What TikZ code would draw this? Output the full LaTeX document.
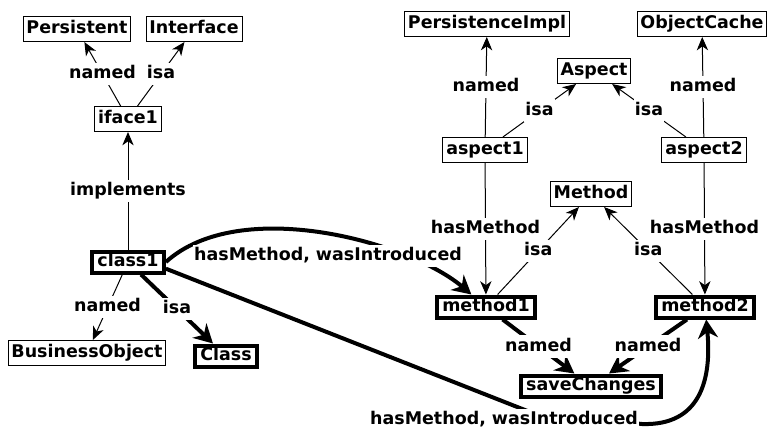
\documentclass[tikz,border=0pt]{standalone}
\usepackage{fontspec}
\setmainfont{DejaVu Sans}
\usetikzlibrary{arrows.meta}
\begin{document}
\begin{tikzpicture}[x=0.75pt,y=-0.75pt,
  every node/.style={font=\fontsize{13.1pt}{15pt}\selectfont\bfseries, text height=9.75pt, text depth=3pt},
  thinbox/.style={draw, line width=0.75pt, fill=white, inner xsep=2.5pt, inner ysep=3pt},
  thickbox/.style={draw, line width=3pt, fill=white, inner xsep=4pt, inner ysep=1.5pt},
  lbl/.style={fill=white, inner xsep=1pt, inner ysep=2pt},
  thinedge/.style={line width=0.75pt, -{Stealth[length=10pt,width=8.5pt,inset=3pt]}},
  thickedge/.style={line width=3pt, -{Stealth[length=14pt,width=15pt,inset=4.5pt]}},
]
\useasboundingbox (0,0) rectangle (771,432);
\fill[white] (0,0) rectangle (771,432);

% nodes
\node[thinbox] (persistent) at (77,29) {Persistent};
\node[thinbox] (interface) at (194,29) {Interface};
\node[thinbox] (iface1) at (128,119) {iface1};
\node[thickbox] (class1) at (128,262) {class1};
\node[thinbox] (bo) at (87,353) {BusinessObject};
\node[thickbox] (class) at (226,356) {Class};
\node[thinbox] (pimpl) at (487,24) {PersistenceImpl};
\node[thinbox] (ocache) at (702,24) {ObjectCache};
\node[thinbox] (aspect) at (594,71) {Aspect};
\node[thinbox] (aspect1) at (485,150) {aspect1};
\node[thinbox] (aspect2) at (704,150) {aspect2};
\node[thinbox] (method) at (591,194) {Method};
\node[thickbox] (method1) at (486,307) {method1};
\node[thickbox] (method2) at (705,307) {method2};
\node[thickbox] (save) at (591,386) {saveChanges};

% straight edges
\draw[thinedge] (iface1) -- node[lbl]{named} (persistent);
\draw[thinedge] (iface1) -- node[lbl]{isa} (interface);
\draw[thinedge] (class1) -- node[lbl]{implements} (iface1);
\draw[thinedge] (class1) -- node[lbl]{named} (bo);
\draw[thickedge] (class1) -- node[lbl]{isa} (class);
\draw[thinedge] (aspect1) -- node[lbl]{named} (pimpl);
\draw[thinedge] (aspect1) -- node[lbl]{isa} (aspect);
\draw[thinedge] (aspect2) -- node[lbl]{named} (ocache);
\draw[thinedge] (aspect2) -- node[lbl]{isa} (aspect);
\draw[thinedge] (aspect1) -- node[lbl]{hasMethod} (method1);
\draw[thinedge] (aspect2) -- node[lbl]{hasMethod} (method2);
\draw[thinedge] (method1) -- node[lbl]{isa} (method);
\draw[thinedge] (method2) -- node[lbl]{isa} (method);
\draw[thickedge] (method1) -- node[lbl]{named} (save);
\draw[thickedge] (method2) -- node[lbl]{named} (save);

% curved edges
\draw[thickedge] (class1.east) .. controls (240,195) and (410,242) .. (method1);
\node[lbl] (hw1) at (328,256) {hasMethod, wasIntroduced};

\coordinate (w1) at (530,412);
\coordinate (w2) at (642,424);
\draw[thickedge] (class1.-10) -- (w1) -- (w2) .. controls (700,426) and (712,380) .. (method2);
\node[lbl] (hw2) at (504,420) {hasMethod, wasIntroduced};
\end{tikzpicture}
\end{document}
